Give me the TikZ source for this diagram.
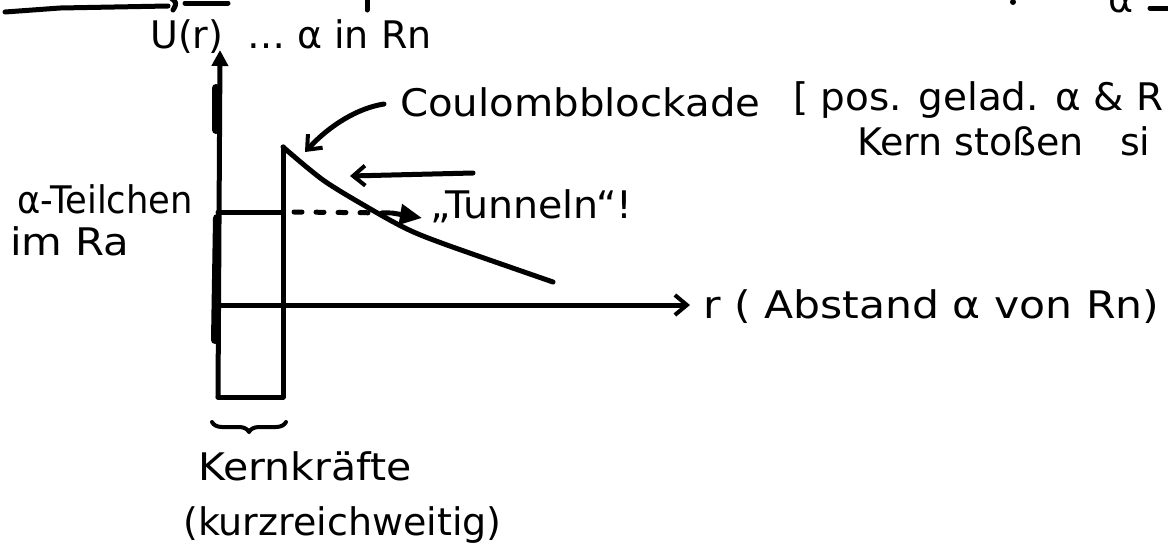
\documentclass[tikz,border=0pt]{standalone}
\usepackage{fontspec}
\usepackage{graphicx}
\setmainfont{DejaVu Sans}
\usetikzlibrary{arrows.meta,decorations.pathreplacing}
\begin{document}
\begin{tikzpicture}[x=1pt,y=-1pt,
  ink/.style={line width=5pt,line cap=round,line join=round},
  hw/.style={font=\fontsize{38}{44}\selectfont,inner sep=0pt,anchor=base west},
  barb/.style={-{Straight Barb[length=12pt,width=20pt,line width=4pt]}},
  solidtip/.style={-{Triangle[length=16pt,width=16pt]}}]
\useasboundingbox (0,0) rectangle (1168,550);
\fill[white] (0,0) rectangle (1168,550);
\clip (0,0) rectangle (1168,550);

% fragments of the previous line at the top
\coordinate (tl1) at (5,12);
\coordinate (tl2) at (60,8);
\coordinate (tl3) at (168,6);
\draw[ink] (tl1) -- (tl2) -- (tl3);
\draw[ink] (171,-2) .. controls (177,3) .. (173,10);
\draw[ink] (185,3) -- (228,3);
\draw[ink] (367,-2) -- (367,10);
\fill (1013,2) circle (3);
\node[hw] (topalpha) at (1108,12) {α};
\draw[ink] (1150,8) -- (1170,8);

% axes and well
\coordinate (ybot) at (218,397);
\coordinate (ytop) at (220,50);
\coordinate (orig) at (218,305);
\coordinate (rtip) at (690,305);
\coordinate (lvl) at (218,212);
\coordinate (wlvl) at (283,212);
\coordinate (peak) at (283,147);
\coordinate (wbot) at (283,397);
\coordinate (tunstart) at (294,212);
\coordinate (tundash) at (392,213);
\coordinate (tunend) at (422,218);

\draw[ink,solidtip] (ybot) -- (ytop);
\draw[line width=8pt,line cap=round] (216,88) -- (216,130);
\draw[line width=8pt,line cap=round] (217,218) -- (215,340);
\draw[ink] (ybot) -- (wbot) -- (peak);
\draw[ink] (lvl) -- (wlvl);
\draw[ink,barb] (orig) -- (rtip);
\draw[ink] plot[smooth] coordinates {(peak) (323,180) (367,207) (407,229) (447,245) (553,282)};

% tunnelling
\draw[ink,dash pattern=on 8pt off 14pt] (tunstart) -- (tundash);
\draw[ink,-{Triangle[length=22pt,width=20pt]}] (tundash) -- (tunend);
\coordinate (la1) at (473,173);
\coordinate (la2) at (350,176);
\draw[ink,barb] (la1) -- (la2);
\node[hw] (tun) at (430,218) {\scalebox{1.04}[1]{„Tunneln“!}};

% Coulomb barrier label
\node[hw] (coul) at (400,116) {\scalebox{1.06}[1]{Coulombblockade}};
\node[hw] (brk) at (793,110) {\scalebox{1.025}[1]{[ pos. gelad. α \& R}};
\node[hw] (kern) at (857,155) {Kern stoßen\hspace{36pt}si};
\coordinate (cstart) at (384,104);
\draw[ink,barb] (cstart) .. controls (358,108) and (330,125) .. (305,152);

% axis labels
\node[hw] (U) at (150,48) {U(r)};
\node[hw] (alin) at (247,48) {… α in Rn};
\node[hw] (rlab) at (703,318) {\scalebox{1.12}[1]{r ( Abstand α von Rn)}};
\node[hw] (alp1) at (17,213) {\scalebox{0.93}[1]{α-Teilchen}};
\node[hw] (alp2) at (10,255) {\scalebox{1.1}[1]{im Ra}};

% nuclear forces
\coordinate (br1) at (212,422);
\coordinate (br2) at (286,422);
\draw[ink,line width=4pt,decorate,decoration={brace,mirror,amplitude=10pt}] (br1) -- (br2);
\node[hw] (kk) at (198,480) {\scalebox{1.08}[1]{Kernkräfte}};
\node[hw] (kw) at (183,535) {(kurzreichweitig)};
\end{tikzpicture}
\end{document}
